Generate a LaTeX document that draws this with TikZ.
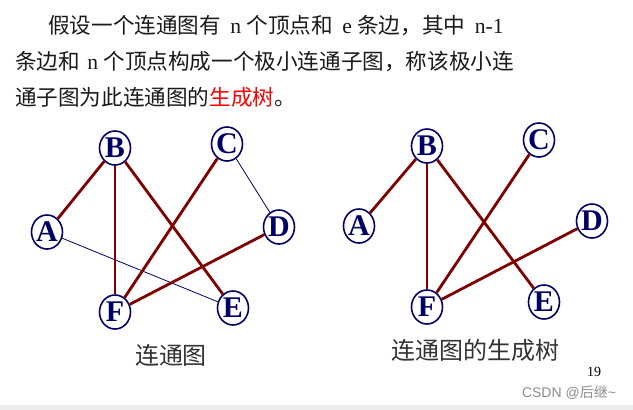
\documentclass[tikz,border=0pt]{standalone}
\usepackage{fontspec}
\setmainfont{Liberation Serif}
\newfontfamily\cjk{Noto Sans CJK SC}
\newfontfamily\wmfont{Liberation Sans}
\usetikzlibrary{shapes.geometric}
\definecolor{navy}{HTML}{000066}
\definecolor{dred}{HTML}{800000}
\definecolor{txt}{HTML}{1A1A1A}
\definecolor{cap}{HTML}{333333}
\begin{document}
\begin{tikzpicture}[x=1pt,y=-1pt,
  vtx/.style={ellipse,draw=navy,line width=1.6pt,fill=white,minimum width=31pt,minimum height=34pt,inner sep=0pt,text=navy,font=\fontsize{30}{30}\selectfont\bfseries},
  thick edge/.style={draw=dred,line width=2.8pt},
  thin edge/.style={draw=navy,line width=0.8pt},
  line/.style={anchor=west,inner sep=0pt,text=txt,font=\fontsize{21.6}{21.6}\selectfont},
  caption/.style={inner sep=0pt,text=cap,font=\cjk\fontsize{24}{24}\selectfont}]
\useasboundingbox (0,0) rectangle (633,410);
\fill[white] (0,0) rectangle (633,410);
\fill[black!7] (0,405) rectangle (633,410);
% text
\node[line] (l1) at (48,26) {{\cjk 假设一个连通图有}\hspace{4pt} n {\cjk 个顶点和}\hspace{4pt} e {\cjk 条边，其中}\hspace{4pt} n-1};
\node[line] (l2) at (15,62) {{\cjk 条边和}\hspace{2pt} n {\cjk 个顶点构成一个极小连通子图，称该极小连}};
\node[line] (l3) at (15,97) {{\cjk 通子图为此连通图的}{\cjk\color{red}生成树}{\cjk 。}};
% left graph
\node[vtx] (A) at (47,232) {A};
\node[vtx] (B) at (115,148) {B};
\node[vtx] (C) at (227,144) {C};
\node[vtx] (D) at (279,227) {D};
\node[vtx] (E) at (233,308) {E};
\node[vtx] (F) at (115,312) {F};
\draw[thin edge] (A) -- (E);
\draw[thin edge] (C) -- (D);
\draw[thick edge] (A) -- (B);
\draw[thick edge] (B) -- (F);
\draw[thick edge] (B) -- (E);
\draw[thick edge] (C) -- (F);
\draw[thick edge] (D) -- (F);
\node[caption] (c1) at (171,355) {连通图};
% right graph
\node[vtx] (A2) at (359,226) {A};
\node[vtx] (B2) at (427,146) {B};
\node[vtx] (C2) at (539,140) {C};
\node[vtx] (D2) at (592,221) {D};
\node[vtx] (E2) at (544,302) {E};
\node[vtx] (F2) at (427,307) {F};
\draw[thick edge] (A2) -- (B2);
\draw[thick edge] (B2) -- (F2);
\draw[thick edge] (B2) -- (E2);
\draw[thick edge] (C2) -- (F2);
\draw[thick edge] (D2) -- (F2);
\node[caption] (c2) at (475,350) {连通图的生成树};
\node[inner sep=0pt,font=\fontsize{14}{14}\selectfont] (pg) at (594,372) {19};
\node[inner sep=0pt,text=black!45,font=\fontsize{14}{14}\selectfont] (wm) at (569,393) {{\wmfont CSDN @}{\cjk 后继}{\wmfont \textasciitilde}};
\end{tikzpicture}
\end{document}
